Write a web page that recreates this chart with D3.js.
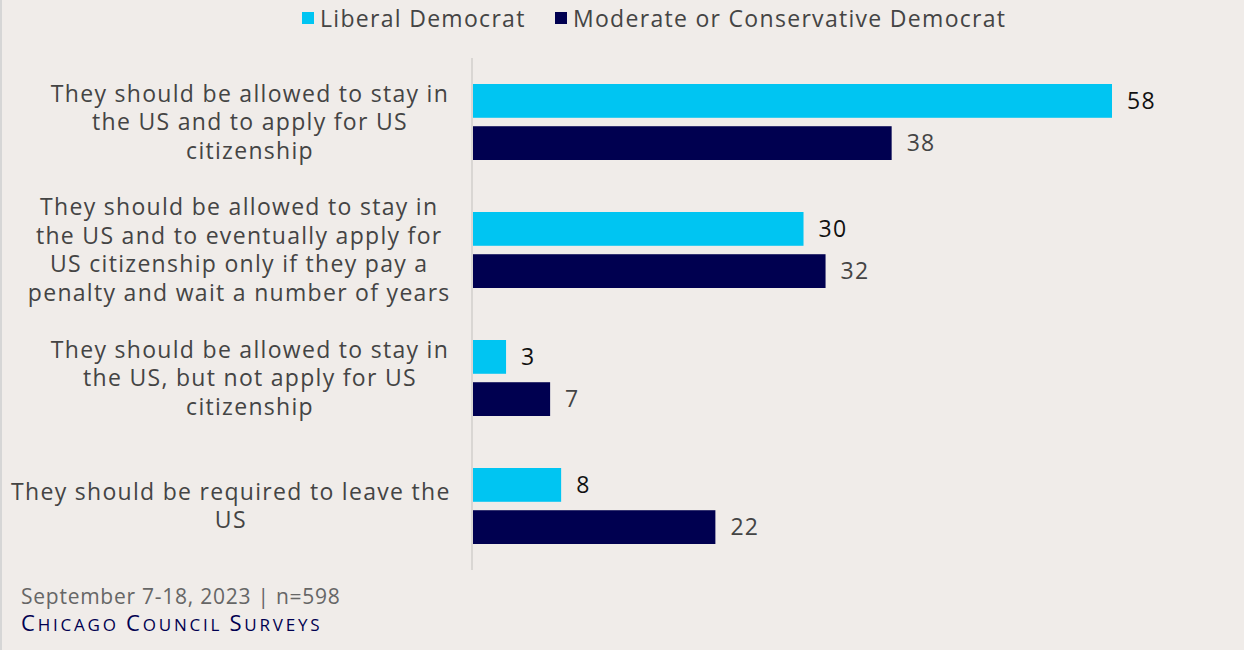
<!DOCTYPE html>
<html>
<head>
<meta charset="utf-8">
<script src="https://cdn.jsdelivr.net/npm/d3@7"></script>
<style>
  html, body { margin: 0; padding: 0; background: #f0ece9; }
  svg { display: block; }
</style>
</head>
<body>
<svg id="chart" width="1244" height="650"></svg>
<script>
const categories = [
  "They should be allowed to stay in\nthe US and to apply for US\ncitizenship",
  "They should be allowed to stay in\nthe US and to eventually apply for\nUS citizenship only if they pay a\npenalty and wait a number of years",
  "They should be allowed to stay in\nthe US, but not apply for US\ncitizenship",
  "They should be required to leave the\nUS"
];
const seriesNames = ["Liberal Democrat", "Moderate or Conservative Democrat"];
const liberal = [58, 30, 3, 8];
const moderate = [38, 32, 7, 22];
const colors = ["#00c5f2", "#000050"];
const labelColors = ["#111111", "#444444"];

const FONT = "'Open Sans', 'Noto Sans', sans-serif";
const LS = 1.3;
const svg = d3.select("#chart");
const W = 1244, H = 650;

svg.append("rect").attr("width", W).attr("height", H).attr("fill", "#f0ece9");
svg.append("rect").attr("x", 0).attr("y", 0).attr("width", 2).attr("height", H).attr("fill", "#d6d6d6");

const x0 = 473;
const x = d3.scaleLinear().domain([0, 58]).range([x0, 1112]);
const y = d3.scaleBand().domain(d3.range(categories.length)).range([58, 570]);
const inner = d3.scaleBand().domain([0, 1]).range([26, 102]).paddingInner(0.2);

// axis line
svg.append("line").attr("x1", 472).attr("x2", 472).attr("y1", 58).attr("y2", 570)
  .attr("stroke", "#d9d6d3").attr("stroke-width", 2);

const data = [liberal, moderate];
data.forEach((vals, s) => {
  svg.append("g").selectAll("rect").data(vals).join("rect")
    .attr("x", x0)
    .attr("y", (d, i) => y(i) + inner(s))
    .attr("width", d => x(d) - x0)
    .attr("height", inner.bandwidth())
    .attr("fill", colors[s]);
  svg.append("g").selectAll("text").data(vals).join("text")
    .attr("x", d => x(d) + 15)
    .attr("y", (d, i) => y(i) + inner(s) + inner.bandwidth() / 2)
    .attr("dy", "0.35em")
    .attr("font-family", FONT).attr("font-size", 23).attr("letter-spacing", LS)
    .attr("fill", labelColors[s])
    .text(d => d);
});

// category labels: block centred at 250, but kept within right edge 450
const lh = 28.5;
categories.forEach((c, i) => {
  const lines = c.split("\n");
  const cy = y(i) + y.bandwidth() / 2;
  const t = svg.append("text")
    .attr("font-family", FONT).attr("font-size", 23).attr("letter-spacing", LS)
    .attr("fill", "#444444").attr("text-anchor", "middle");
  const spans = lines.map((l, j) => t.append("tspan").attr("x", 250)
      .attr("y", cy + (j - (lines.length - 1) / 2) * lh)
      .attr("dy", "0.35em").text(l));
  const maxW = d3.max(spans, s => s.node().getComputedTextLength()) - LS;
  const cx = Math.min(250, 450 - maxW / 2);
  spans.forEach(s => s.attr("x", cx));
});

// legend
const legendX = [302, 555];
seriesNames.forEach((n, s) => {
  svg.append("rect").attr("x", legendX[s]).attr("y", 12).attr("width", 12).attr("height", 12).attr("fill", colors[s]);
  svg.append("text").attr("x", legendX[s] + 18).attr("y", 19).attr("dy", "0.35em")
    .attr("font-family", FONT).attr("font-size", 23).attr("letter-spacing", LS)
    .attr("fill", "#444444").text(n);
});

// footer
svg.append("text").attr("x", 21).attr("y", 604)
  .attr("font-family", FONT).attr("font-size", 21).attr("letter-spacing", 0.75).attr("fill", "#666666")
  .text("September 7-18, 2023 | n=598");
const brand = svg.append("text").attr("x", 21).attr("y", 631)
  .attr("font-family", FONT).attr("font-weight", 500).attr("letter-spacing", 2.8).attr("fill", "#000050");
[["C", 22], ["HICAGO ", 17], ["C", 22], ["OUNCIL ", 17], ["S", 22], ["URVEYS", 17]].forEach(([t, s]) => {
  brand.append("tspan").attr("font-size", s).text(t);
});
</script>
</body>
</html>
